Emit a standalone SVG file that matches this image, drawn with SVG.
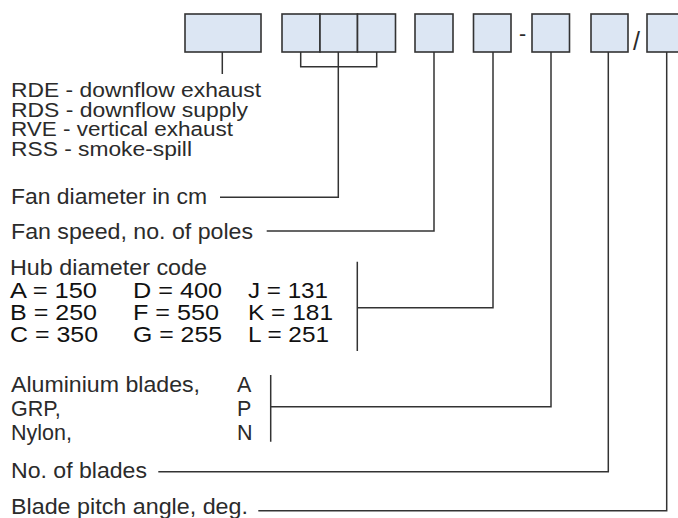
<svg xmlns="http://www.w3.org/2000/svg" width="678" height="518" viewBox="0 0 678 518">
<style>
.box{fill:#dce6f3;stroke:#333;stroke-width:1.6}
.ln{fill:none;stroke:#333;stroke-width:1.5}
.t{font-family:"Liberation Sans",Arial,sans-serif;font-size:21.5px;fill:#2b2b2b}
.s{font-size:20px}
.c{font-family:"Liberation Sans",Arial,sans-serif;font-size:21.5px;fill:#111}
</style>
<rect width="678" height="518" fill="#fff"/>
<g id="box-type"><rect class="box" x="185" y="14" width="76" height="38"/></g>
<g id="box-diameter">
<rect class="box" x="282" y="14" width="38" height="38"/>
<rect class="box" x="320" y="14" width="37.5" height="38"/>
<rect class="box" x="357.5" y="14" width="38" height="38"/>
</g>
<g id="box-speed"><rect class="box" x="415" y="14" width="38" height="38"/></g>
<g id="box-hub"><rect class="box" x="473.5" y="14" width="37.5" height="38"/></g>
<text class="t" x="522.5" y="41" text-anchor="middle">-</text>
<g id="box-material"><rect class="box" x="532" y="14" width="37.5" height="38"/></g>
<g id="box-blades"><rect class="box" x="591" y="14" width="37" height="38"/></g>
<text class="t" x="636.5" y="50" text-anchor="middle" style="font-size:25px">/</text>
<g id="box-pitch"><rect class="box" x="647" y="14" width="40" height="38"/></g>

<g id="connectors">
<path class="ln" d="M222.3 52V74"/>
<path class="ln" d="M300.7 52V66.7H376.7V52M338.3 52V197.3H220"/>
<path class="ln" d="M434 52V231H266.7"/>
<path class="ln" d="M493 52V307.7H357.3M357.3 261.7V351"/>
<path class="ln" d="M551 52V406.7H270.7M270.7 375V441.7"/>
<path class="ln" d="M608.3 52V471.7H158.3"/>
<path class="ln" d="M666.7 52V510.7H258.3"/>
</g>

<g id="labels-type">
<text class="t s" x="11" y="97" textLength="250" lengthAdjust="spacingAndGlyphs">RDE - downflow exhaust</text>
<text class="t s" x="11" y="116.5" textLength="237" lengthAdjust="spacingAndGlyphs">RDS - downflow supply</text>
<text class="t s" x="11" y="136" textLength="222" lengthAdjust="spacingAndGlyphs">RVE - vertical exhaust</text>
<text class="t s" x="11" y="155.5" textLength="181" lengthAdjust="spacingAndGlyphs">RSS - smoke-spill</text>
</g>
<g id="label-diameter"><text class="t" x="11" y="204" textLength="196" lengthAdjust="spacingAndGlyphs">Fan diameter in cm</text></g>
<g id="label-speed"><text class="t" x="11" y="239" textLength="242" lengthAdjust="spacingAndGlyphs">Fan speed, no. of poles</text></g>
<g id="label-hub">
<text class="t" x="10" y="275" textLength="197" lengthAdjust="spacingAndGlyphs">Hub diameter code</text>
<text class="c" x="10" y="297.5" textLength="87" lengthAdjust="spacingAndGlyphs">A = 150</text>
<text class="c" x="133" y="297.5" textLength="89" lengthAdjust="spacingAndGlyphs">D = 400</text>
<text class="c" x="248" y="297.5" textLength="80" lengthAdjust="spacingAndGlyphs">J = 131</text>
<text class="c" x="10" y="319.5" textLength="87" lengthAdjust="spacingAndGlyphs">B = 250</text>
<text class="c" x="133" y="319.5" textLength="86" lengthAdjust="spacingAndGlyphs">F = 550</text>
<text class="c" x="248" y="319.5" textLength="85" lengthAdjust="spacingAndGlyphs">K = 181</text>
<text class="c" x="10" y="341.5" textLength="88" lengthAdjust="spacingAndGlyphs">C = 350</text>
<text class="c" x="133" y="341.5" textLength="89" lengthAdjust="spacingAndGlyphs">G = 255</text>
<text class="c" x="248" y="341.5" textLength="81" lengthAdjust="spacingAndGlyphs">L = 251</text>
</g>
<g id="label-material">
<text class="t" x="11" y="392" textLength="189" lengthAdjust="spacingAndGlyphs">Aluminium blades,</text>
<text class="t" x="11" y="416">GRP,</text>
<text class="t" x="11" y="440">Nylon,</text>
<text class="t" x="237" y="392">A</text>
<text class="t" x="237" y="416">P</text>
<text class="t" x="237" y="440">N</text>
</g>
<g id="label-blades"><text class="t" x="11" y="478" textLength="136" lengthAdjust="spacingAndGlyphs">No. of blades</text></g>
<g id="label-pitch"><text class="t" x="11" y="514" textLength="237" lengthAdjust="spacingAndGlyphs">Blade pitch angle, deg.</text></g>
</svg>
